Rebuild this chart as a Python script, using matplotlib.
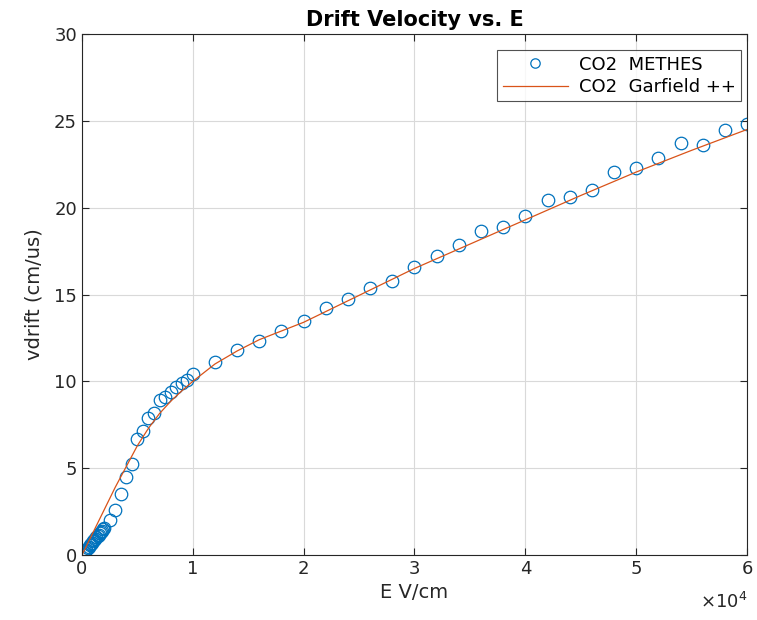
import matplotlib
matplotlib.use('Agg')
import matplotlib.pyplot as plt
import numpy as np

# METHES points (E in V/cm, vdrift in cm/us)
e_methes = [100, 200, 300, 400, 500, 600, 700, 800, 900, 1000,
            1100, 1200, 1300, 1400, 1500, 1600, 1700, 1800, 1900, 2000,
            2500, 3000, 3500, 4000, 4500, 5000, 5500, 6000, 6500, 7000,
            7500, 8000, 8500, 9000, 9500, 10000,
            12000, 14000, 16000, 18000, 20000, 22000, 24000, 26000, 28000, 30000,
            32000, 34000, 36000, 38000, 40000, 42000, 44000, 46000, 48000, 50000,
            52000, 54000, 56000, 58000, 60000]
v_methes = [0.08, 0.15, 0.23, 0.31, 0.39, 0.47, 0.55, 0.62, 0.70, 0.78,
            0.86, 0.94, 1.01, 1.09, 1.17, 1.25, 1.32, 1.40, 1.48, 1.55,
            2.0, 2.6, 3.5, 4.5, 5.25, 6.7, 7.15, 7.9, 8.2, 8.9,
            9.1, 9.4, 9.65, 9.9, 10.1, 10.4,
            11.1, 11.8, 12.3, 12.9, 13.5, 14.2, 14.75, 15.4, 15.8, 16.6,
            17.2, 17.85, 18.65, 18.9, 19.5, 20.45, 20.6, 21.0, 22.05, 22.3,
            22.85, 23.7, 23.6, 24.45, 24.8]

# Garfield++ curve
e_garf = [0, 1000, 2000, 3000, 4000, 5000, 6000, 7000, 8000, 9000, 10000,
          12000, 14000, 16000, 18000, 20000, 25000, 30000, 35000, 40000,
          45000, 50000, 55000, 60000]
v_garf = [0, 1.3, 2.6, 3.9, 5.1, 6.3, 7.3, 8.15, 8.85, 9.45, 10.0,
          11.0, 11.75, 12.4, 12.9, 13.4, 14.95, 16.5, 17.9, 19.3,
          20.7, 22.05, 23.3, 24.5]

blue = (0, 0.447, 0.741)
orange = (0.85, 0.325, 0.098)
axc = (0.15, 0.15, 0.15)

plt.rcParams['font.family'] = ['DejaVu Sans']
fig = plt.figure(figsize=(7.57, 6.2), dpi=100)
ax = fig.add_axes([0.1083, 0.1048, 0.8785, 0.8404])

ax.plot(e_methes, v_methes, 'o', mfc='none', mec=blue, ms=9, mew=0.9, label='CO2  METHES')
ax.plot(e_garf, v_garf, '-', color=orange, lw=0.9, label='CO2  Garfield ++')

ax.set_xlim(0, 60000)
ax.set_ylim(0, 30)
ax.set_xticks(np.arange(0, 60001, 10000))
ax.set_xticklabels(['0', '1', '2', '3', '4', '5', '6'])
ax.set_yticks(np.arange(0, 31, 5))
ax.tick_params(direction='in', top=True, right=True, labelsize=13, colors=axc, length=5)
for s in ax.spines.values():
    s.set_color(axc)
    s.set_linewidth(0.8)
ax.grid(True, color=(0.85, 0.85, 0.85), lw=0.8)
ax.set_axisbelow(True)

ax.set_xlabel('E V/cm', fontsize=14, color=axc, labelpad=4)
ax.set_ylabel('vdrift (cm/us)', fontsize=14, color=axc, labelpad=8)
ax.set_title('Drift Velocity vs. E', fontsize=15, fontweight='bold', pad=6)
ax.text(1.0, -0.07, r'$\times\mathregular{10^4}$', transform=ax.transAxes,
        ha='right', va='top', fontsize=13, color=axc)

leg = ax.legend(loc='upper right', bbox_to_anchor=(0.991, 0.969), borderaxespad=0,
                fontsize=13, frameon=True, fancybox=False, edgecolor=axc,
                handlelength=3.6, handletextpad=0.6, borderpad=0.3,
                labelspacing=0.25, markerscale=0.75)
leg.get_frame().set_linewidth(0.8)

fig.savefig('out.png', dpi=100)
